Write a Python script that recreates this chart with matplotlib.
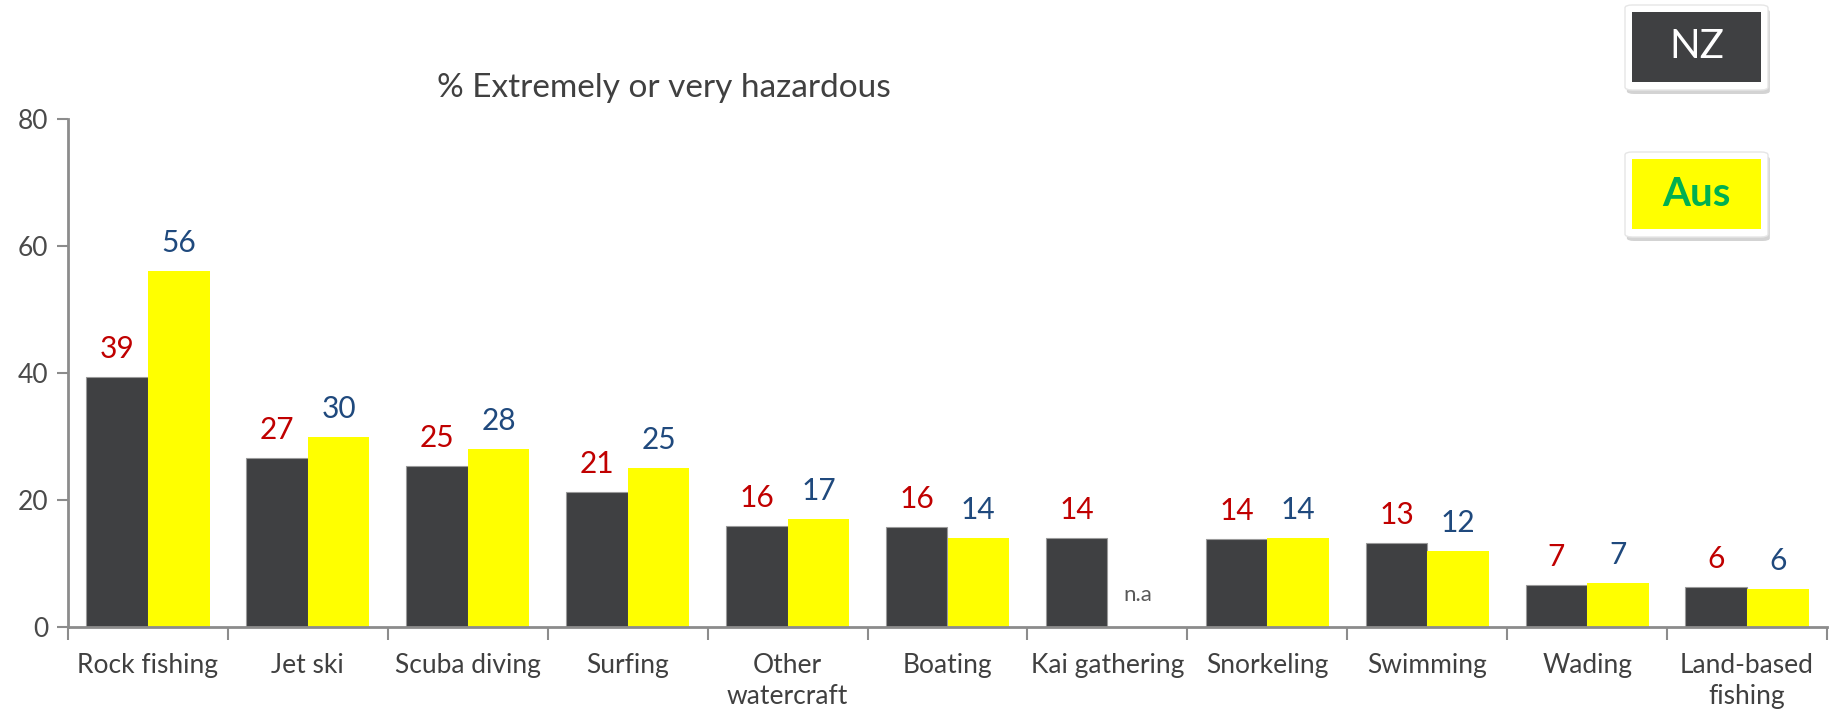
import numpy as np
import matplotlib.pyplot as plt
from matplotlib.patches import FancyBboxPatch, Rectangle

plt.rcParams['font.family'] = ['Lato', 'DejaVu Sans']

activities = ['Rock fishing', 'Jet ski', 'Scuba diving', 'Surfing', 'Other\nwatercraft',
              'Boating', 'Kai gathering', 'Snorkeling', 'Swimming', 'Wading', 'Land-based\nfishing']
nz = [39.3, 26.6, 25.3, 21.2, 15.9, 15.8, 14.0, 13.8, 13.3, 6.6, 6.3]
aus = [56, 30, 28, 25, 17, 14, None, 14, 12, 7, 6]
yticks = [0, 20, 40, 60, 80]

dark = '#3f4042'
yellow = '#ffff00'
red = '#c00000'
blue = '#1f497d'
axis_grey = '#8c8c8c'

W, H = 1845, 717
fig = plt.figure(figsize=(W / 100, H / 100), dpi=100)
ax = fig.add_axes([68 / W, 1 - 627 / H, (1827 - 68) / W, (627 - 119) / H])

x = np.arange(len(activities))
bw = 0.385
ax.bar(x - bw / 2, nz, bw, color=dark, edgecolor='#9a9a9a', linewidth=0.8, zorder=2)
aus_vals = [v if v is not None else 0 for v in aus]
ax.bar(x + bw / 2, aus_vals, bw, color=yellow, linewidth=0, zorder=2)

for i, v in enumerate(nz):
    ax.annotate(f'{v:.0f}', (x[i] - bw / 2, v), xytext=(0, 14), textcoords='offset pixels',
                ha='center', va='bottom', color=red, fontsize=21.5)
for i, v in enumerate(aus):
    if v is None:
        ax.text(x[i] + bw / 2, 5, 'n.a', ha='center', va='center', color='#595959', fontsize=16)
        continue
    ax.annotate(f'{v:.0f}', (x[i] + bw / 2, v), xytext=(0, 14), textcoords='offset pixels',
                ha='center', va='bottom', color=blue, fontsize=21.5)

ax.set_xlim(-0.5, len(activities) - 0.5)
ax.set_ylim(0, 80)
ax.set_yticks(yticks)
ax.tick_params(axis='y', colors=axis_grey, labelcolor='#4a4a4a', labelsize=19,
               length=8, width=1.5, pad=6)

# category boundaries carry the ticks, names sit at the centres
ax.set_xticks(np.arange(-0.5, len(activities), 1.0))
ax.set_xticklabels([])
ax.set_xticks(x, minor=True)
ax.set_xticklabels(activities, minor=True, fontsize=19, color='#404040', linespacing=1.3)
ax.tick_params(axis='x', which='major', colors=axis_grey, length=9, width=1.5)
ax.tick_params(axis='x', which='minor', length=0, pad=19)

for s in ['top', 'right']:
    ax.spines[s].set_visible(False)
for s in ['left', 'bottom']:
    ax.spines[s].set_color(axis_grey)
    ax.spines[s].set_linewidth(2)

fig.text(664 / W, 1 - 88 / H, '% Extremely or very hazardous', ha='center', va='center',
         fontsize=24, color='#404040')

# legend boxes
def key_box(y_top, face, label, tcolor, weight):
    x0, x1 = 1625, 1768
    y0, y1 = y_top, y_top + 85
    shadow = FancyBboxPatch((x0 / W + 0.001, 1 - (y1 + 4) / H), (x1 - x0) / W, (y1 - y0) / H,
                            boxstyle='round,pad=0,rounding_size=0.004', transform=fig.transFigure,
                            facecolor='#c8c8c8', edgecolor='none', alpha=0.8)
    frame = FancyBboxPatch((x0 / W, 1 - y1 / H), (x1 - x0) / W, (y1 - y0) / H,
                           boxstyle='round,pad=0,rounding_size=0.004', transform=fig.transFigure,
                           facecolor='white', edgecolor='#e6e6e6', linewidth=1)
    inner = Rectangle((1632 / W, 1 - (y0 + 77) / H), (1761 - 1632) / W, 70 / H,
                      transform=fig.transFigure, facecolor=face, edgecolor='none')
    for p in (shadow, frame, inner):
        fig.patches.append(p)
    fig.text((1632 + 1761) / 2 / W, 1 - (y0 + 42) / H, label, ha='center', va='center',
             color=tcolor, fontsize=29, fontweight=weight)

key_box(5, dark, 'NZ', 'white', 'normal')
key_box(152, yellow, 'Aus', '#00b050', 'bold')

fig.savefig('out.png', dpi=100)
